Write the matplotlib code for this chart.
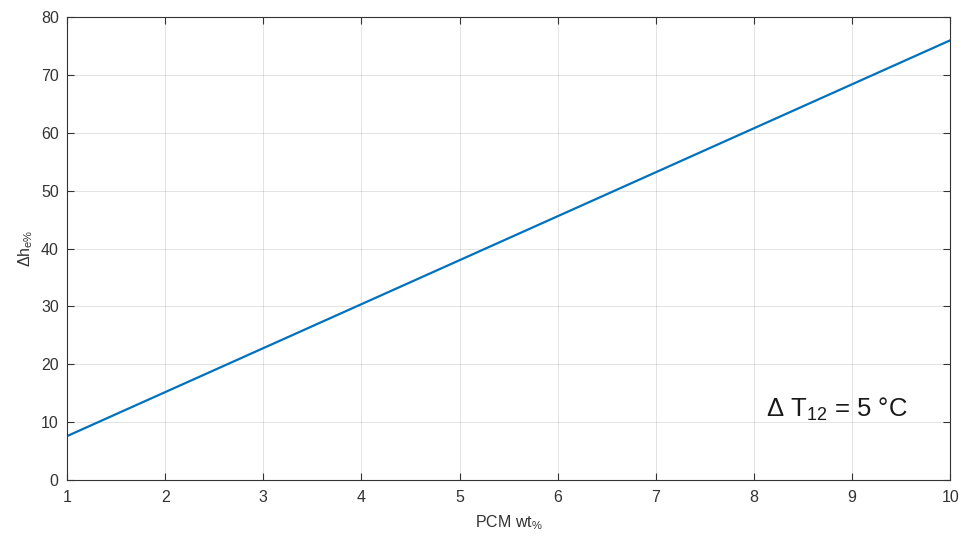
import matplotlib
matplotlib.use("Agg")
import matplotlib.pyplot as plt

# PCM weight fraction vs enthalpy change
pcm_wt = [1, 2, 3, 4, 5, 6, 7, 8, 9, 10]
dh_e = [7.6, 15.2, 22.8, 30.4, 38.0, 45.6, 53.2, 60.8, 68.4, 76.0]

plt.rcParams['font.family'] = ['Liberation Sans', 'DejaVu Sans']
plt.rcParams['mathtext.default'] = 'regular'

fig = plt.figure(figsize=(9.62, 5.37), dpi=100)
ax = fig.add_axes([0.0697, 0.106, 0.918, 0.862])

ax.plot(pcm_wt, dh_e, color='#0072BD', lw=1.6)

ax.set_xlim(1, 10)
ax.set_ylim(0, 80)
ax.set_xticks(range(1, 11))
ax.set_yticks(range(0, 81, 10))
ax.grid(True, color='#262626', alpha=0.13, lw=0.7)
ax.tick_params(direction='in', top=True, right=True, labelsize=11.5,
               colors='#333333', length=5, width=0.8)
ax.tick_params(axis='x', pad=7)
ax.tick_params(axis='y', pad=6)
for s in ax.spines.values():
    s.set_color('#333333')
    s.set_linewidth(0.8)

ax.set_xlabel('PCM wt$_{\\%}$', fontsize=11.5, color='#333333', labelpad=6)
ax.set_ylabel('$\\Delta$h$_{e\\%}$', fontsize=11.5, color='#333333', labelpad=4)

ax.text(8.12, 11.0, '$\\Delta$ T$_{12}$ = 5 °C', fontsize=18.5, color='#1a1a1a')

fig.savefig('out.png', dpi=100)
